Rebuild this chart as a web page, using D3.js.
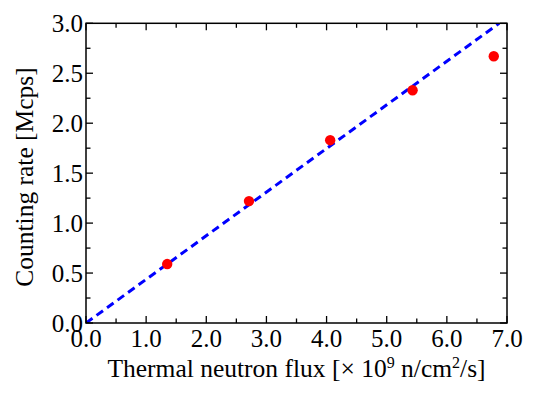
<!DOCTYPE html>
<html><head><meta charset="utf-8">
<script src="https://cdn.jsdelivr.net/npm/d3@7"></script>
<style>body{margin:0;background:#fff}text{font-family:"Liberation Serif","Times New Roman",serif;fill:#000}</style>
</head><body>
<svg id="c" width="533" height="405"></svg>
<script>
const fluxValues = [1.35, 2.71, 4.06, 5.43, 6.78];
const countValues = [0.59, 1.22, 1.83, 2.33, 2.67];
const fitSlope = 0.4367;
const xTickLabels = ["0.0","1.0","2.0","3.0","4.0","5.0","6.0","7.0"];
const yTickLabels = ["0.0","0.5","1.0","1.5","2.0","2.5","3.0"];

const svg = d3.select("#c");
const L=86, R=507, T=23.3, B=323;
const x = d3.scaleLinear().domain([0,7]).range([L,R]);
const y = d3.scaleLinear().domain([0,3]).range([B,T]);

const g = svg.append("g");
svg.append("clipPath").attr("id","pc").append("rect")
  .attr("x",L).attr("y",T).attr("width",R-L).attr("height",B-T);

// fit line
const xEnd = 3/fitSlope;
g.append("line").attr("clip-path","url(#pc)")
  .attr("x1",x(0)).attr("y1",y(0)).attr("x2",x(xEnd)).attr("y2",y(fitSlope*xEnd))
  .attr("stroke","#0000ff").attr("stroke-width",3).attr("stroke-dasharray","8,5");

// points
g.selectAll("circle").data(fluxValues).join("circle")
  .attr("cx",d=>x(d)).attr("cy",(d,i)=>y(countValues[i])).attr("r",5.2).attr("fill","#ff0000");

// frame
g.append("rect").attr("x",L).attr("y",T).attr("width",R-L).attr("height",B-T)
  .attr("fill","none").attr("stroke","#000").attr("stroke-width",1.5);

const xMaj = d3.range(0,7.01,1), xMin = d3.range(0.5,7,1);
const yMaj = d3.range(0,3.01,0.5), yMin = d3.range(0.25,3,0.5);
const maj=7, mn=4.5;
function ticks(vals,len){
  vals.forEach(v=>{
    g.append("line").attr("x1",x(v)).attr("x2",x(v)).attr("y1",B).attr("y2",B-len).attr("stroke","#000").attr("stroke-width",1.3);
    g.append("line").attr("x1",x(v)).attr("x2",x(v)).attr("y1",T).attr("y2",T+len).attr("stroke","#000").attr("stroke-width",1.3);
  });
}
function yticks(vals,len){
  vals.forEach(v=>{
    g.append("line").attr("y1",y(v)).attr("y2",y(v)).attr("x1",L).attr("x2",L+len).attr("stroke","#000").attr("stroke-width",1.3);
    g.append("line").attr("y1",y(v)).attr("y2",y(v)).attr("x1",R).attr("x2",R-len).attr("stroke","#000").attr("stroke-width",1.3);
  });
}
ticks(xMaj,maj); ticks(xMin,mn); yticks(yMaj,maj); yticks(yMin,mn);

// tick labels
g.selectAll(".xl").data(xTickLabels).join("text").attr("class","xl")
  .attr("x",(d,i)=>x(i)).attr("y",347).attr("text-anchor","middle").attr("font-size",25).text(d=>d);
g.selectAll(".yl").data(yTickLabels).join("text").attr("class","yl")
  .attr("x",83).attr("y",(d,i)=>y(i*0.5)+8.5).attr("text-anchor","end").attr("font-size",25).text(d=>d);

// axis titles
const xt = g.append("text").attr("x",(L+R)/2).attr("y",377).attr("text-anchor","middle").attr("font-size",25.5);
xt.append("tspan").text("Thermal neutron flux [× 10");
xt.append("tspan").attr("dy",-9).attr("font-size",16).text("9");
xt.append("tspan").attr("dy",9).text(" n/cm");
xt.append("tspan").attr("dy",-9).attr("font-size",16).text("2");
xt.append("tspan").attr("dy",9).text("/s]");

g.append("text").attr("transform",`translate(33,177) rotate(-90)`)
  .attr("text-anchor","middle").attr("font-size",25.5).text("Counting rate [Mcps]");
</script>
</body></html>
